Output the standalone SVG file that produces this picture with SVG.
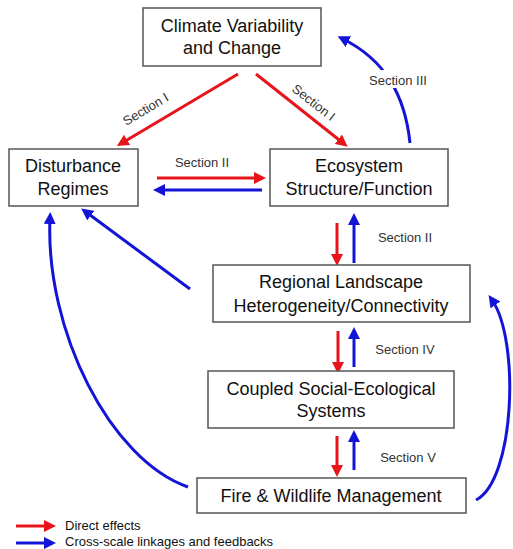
<svg xmlns="http://www.w3.org/2000/svg" width="513" height="549" viewBox="0 0 513 549">
<style>
.box{fill:#fff;stroke:#555;stroke-width:1.5}
.t{font-family:"Liberation Sans",Arial,sans-serif;font-size:18px;fill:#111;text-anchor:middle}
.s{font-family:"Liberation Sans",Arial,sans-serif;font-size:13px;fill:#333;text-anchor:middle}
.l{font-family:"Liberation Sans",Arial,sans-serif;font-size:13px;fill:#111}
.r{fill:none;stroke:#e8141c;stroke-width:3;marker-end:url(#ar)}
.b{fill:none;stroke:#1414d8;stroke-width:3;marker-end:url(#ab)}
</style>
<defs>
<marker id="ar" markerWidth="4" markerHeight="4" refX="2" refY="2" orient="auto" markerUnits="strokeWidth"><path d="M0,0 L4,2 L0,4 z" fill="#e8141c"/></marker>
<marker id="ab" markerWidth="4" markerHeight="4" refX="2" refY="2" orient="auto" markerUnits="strokeWidth"><path d="M0,0 L4,2 L0,4 z" fill="#1414d8"/></marker>
</defs>
<rect width="513" height="549" fill="#fff"/>
<g id="connectors">
<path class="r" d="M238,74 L122,143"/>
<path class="r" d="M256,74 L343,143"/>
<path class="b" d="M410,143 C405,95 385,60 343,39"/>
<path class="r" d="M157,178 L260,178"/>
<path class="b" d="M262,190 L159,190"/>
<path class="r" d="M337,223 L337,260"/>
<path class="b" d="M354,263 L354,219"/>
<path class="b" d="M190,289 L86,212"/>
<path class="b" d="M188,487 C110,460 45,330 50,218"/>
<path class="b" d="M476,500 C515,480 520,340 492,300"/>
<path class="r" d="M338,331 L338,368"/>
<path class="b" d="M354,367 L354,333"/>
<path class="r" d="M337,436 L337,471"/>
<path class="b" d="M354,470 L354,436"/>
<rect x="366" y="70" width="64" height="18" fill="#fff"/>
<text class="s" x="398" y="85">Section III</text>
<text class="s" transform="translate(148,113) rotate(-31)">Section I</text>
<text class="s" transform="translate(311,106) rotate(38)">Section I</text>
<text class="s" x="202" y="167">Section II</text>
<text class="s" x="405" y="242">Section II</text>
<text class="s" x="405" y="354">Section IV</text>
<text class="s" x="408" y="462">Section V</text>
</g>
<g id="climate"><rect class="box" x="143" y="8" width="178" height="58"/><text class="t" x="232" y="32">Climate Variability</text><text class="t" x="232" y="54">and Change</text></g>
<g id="disturbance"><rect class="box" x="9" y="149" width="129" height="57"/><text class="t" x="73" y="172">Disturbance</text><text class="t" x="73" y="195">Regimes</text></g>
<g id="ecosystem"><rect class="box" x="270" y="149" width="178" height="57"/><text class="t" x="359" y="172">Ecosystem</text><text class="t" x="359" y="195">Structure/Function</text></g>
<g id="regional"><rect class="box" x="213" y="265" width="257" height="57"/><text class="t" x="341" y="288">Regional Landscape</text><text class="t" x="341" y="312">Heterogeneity/Connectivity</text></g>
<g id="coupled"><rect class="box" x="208" y="371" width="246" height="57"/><text class="t" x="331" y="395">Coupled Social-Ecological</text><text class="t" x="331" y="417">Systems</text></g>
<g id="fire"><rect class="box" x="197" y="478" width="269" height="35"/><text class="t" x="331" y="502">Fire &amp; Wildlife Management</text></g>
<g id="legend">
<path class="r" d="M16,526 L50,526"/>
<text class="l" x="65" y="530">Direct effects</text>
<path class="b" d="M16,543 L50,543"/>
<text class="l" x="65" y="546">Cross-scale linkages and feedbacks</text>
</g>
</svg>
